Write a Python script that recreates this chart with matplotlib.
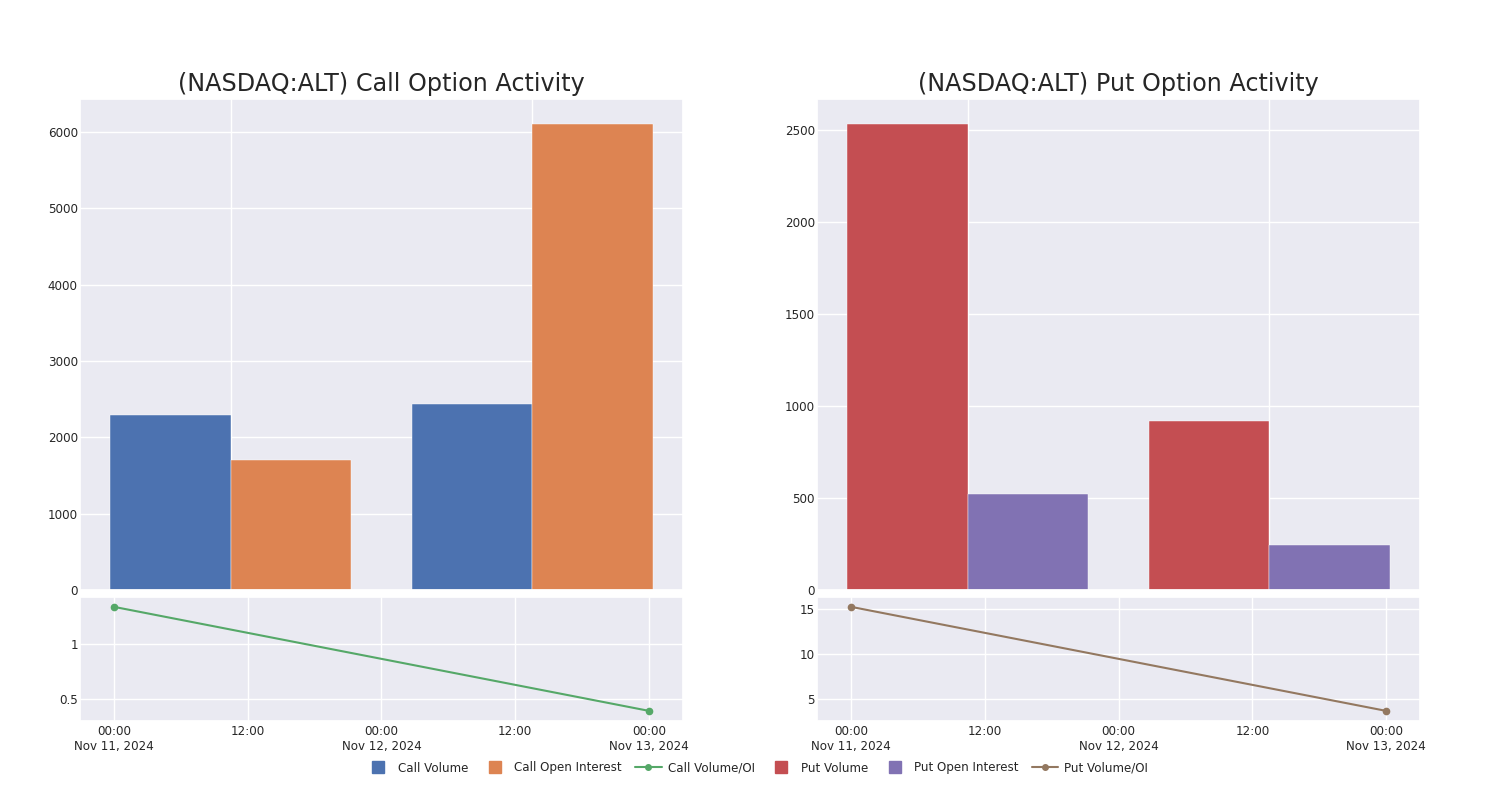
import numpy as np
import pandas as pd
import matplotlib
matplotlib.use("Agg")
import matplotlib.pyplot as plt
import matplotlib.dates as mdates
from matplotlib.ticker import MultipleLocator, FormatStrFormatter
from matplotlib.lines import Line2D
import seaborn as sns

sns.set_theme(style="darkgrid")
plt.rcParams['font.family'] = ['DejaVu Sans']

# data
ticker = "NASDAQ:ALT"
dates = pd.to_datetime(["2024-11-11", "2024-11-13"])
call_volume = [2297, 2442]
call_oi = [1707, 6105]
call_ratio = [1.343, 0.389]
put_volume = [2533, 920]
put_oi = [523, 245]
put_ratio = [15.22, 3.65]

colors = sns.color_palette("deep")
c_vol, c_oi, c_ratio = colors[0], colors[1], colors[2]
p_vol, p_oi, p_ratio = colors[3], colors[4], colors[5]

TICK_FS = 8.6


def date_fmt(x, pos=None):
    d = mdates.num2date(x)
    if d.hour == 0:
        return d.strftime("%H:%M") + "\n" + d.strftime("%b %d, %Y")
    return d.strftime("%H:%M")


def draw_panel(fig, left, title, vol, oi, ratio, cv, co, cr, ystep_top, ystep_bot):
    w = 0.402
    ax = fig.add_axes([left, 0.2625, w, 0.6138])
    axl = fig.add_axes([left, 0.0988, w, 0.155])

    x = np.arange(len(vol))
    ax.bar(x - 0.2, vol, width=0.4, color=cv, edgecolor="white", linewidth=0.3)
    ax.bar(x + 0.2, oi, width=0.4, color=co, edgecolor="white", linewidth=0.3)
    ax.set_xticks(x)
    ax.set_xticklabels([])
    ax.set_xlim(-0.5, 1.5)
    ax.set_ylim(0, max(max(vol), max(oi)) * 1.054)
    ax.yaxis.set_major_locator(MultipleLocator(ystep_top))
    ax.tick_params(axis="both", length=0)
    ax.tick_params(axis="y", labelsize=TICK_FS, pad=1.5)
    ax.set_title(title, fontsize=17.2, pad=6, color="#262626")

    axl.plot(dates, ratio, color=cr, marker="o", markersize=4.5, linewidth=1.5)
    span = dates[-1] - dates[0]
    axl.set_xlim(dates[0] - span * 0.0635, dates[-1] + span * 0.0635)
    rng = max(ratio) - min(ratio)
    axl.set_ylim(min(ratio) - rng * 0.097, max(ratio) + rng * 0.095)
    axl.xaxis.set_major_locator(mdates.HourLocator(byhour=[0, 12]))
    axl.xaxis.set_major_formatter(plt.FuncFormatter(date_fmt))
    axl.yaxis.set_major_locator(MultipleLocator(ystep_bot))
    axl.yaxis.set_major_formatter(FormatStrFormatter("%g"))
    axl.tick_params(axis="both", length=0, labelsize=TICK_FS)
    axl.tick_params(axis="y", pad=1.5)
    axl.tick_params(axis="x", pad=3)
    return ax, axl


fig = plt.figure(figsize=(15, 8), dpi=100)
draw_panel(fig, 0.0533, f"({ticker}) Call Option Activity",
           call_volume, call_oi, call_ratio, c_vol, c_oi, c_ratio, 1000, 0.5)
draw_panel(fig, 0.5447, f"({ticker}) Put Option Activity",
           put_volume, put_oi, put_ratio, p_vol, p_oi, p_ratio, 500, 5)

handles = [
    Line2D([], [], color=c_vol, marker="s", linestyle="none", markersize=8),
    Line2D([], [], color=c_oi, marker="s", linestyle="none", markersize=8),
    Line2D([], [], color=c_ratio, marker="o", markersize=4, linewidth=1.5),
    Line2D([], [], color=p_vol, marker="s", linestyle="none", markersize=8),
    Line2D([], [], color=p_oi, marker="s", linestyle="none", markersize=8),
    Line2D([], [], color=p_ratio, marker="o", markersize=4, linewidth=1.5),
]
labels = ["Call Volume", "Call Open Interest", "Call Volume/OI",
          "Put Volume", "Put Open Interest", "Put Volume/OI"]
fig.legend(handles, labels, loc="center", bbox_to_anchor=(0.5045, 0.04), ncol=6,
           frameon=False, fontsize=8.6, handlelength=2.2, columnspacing=1.15, handletextpad=0.5)

fig.savefig("out.png", dpi=100)
